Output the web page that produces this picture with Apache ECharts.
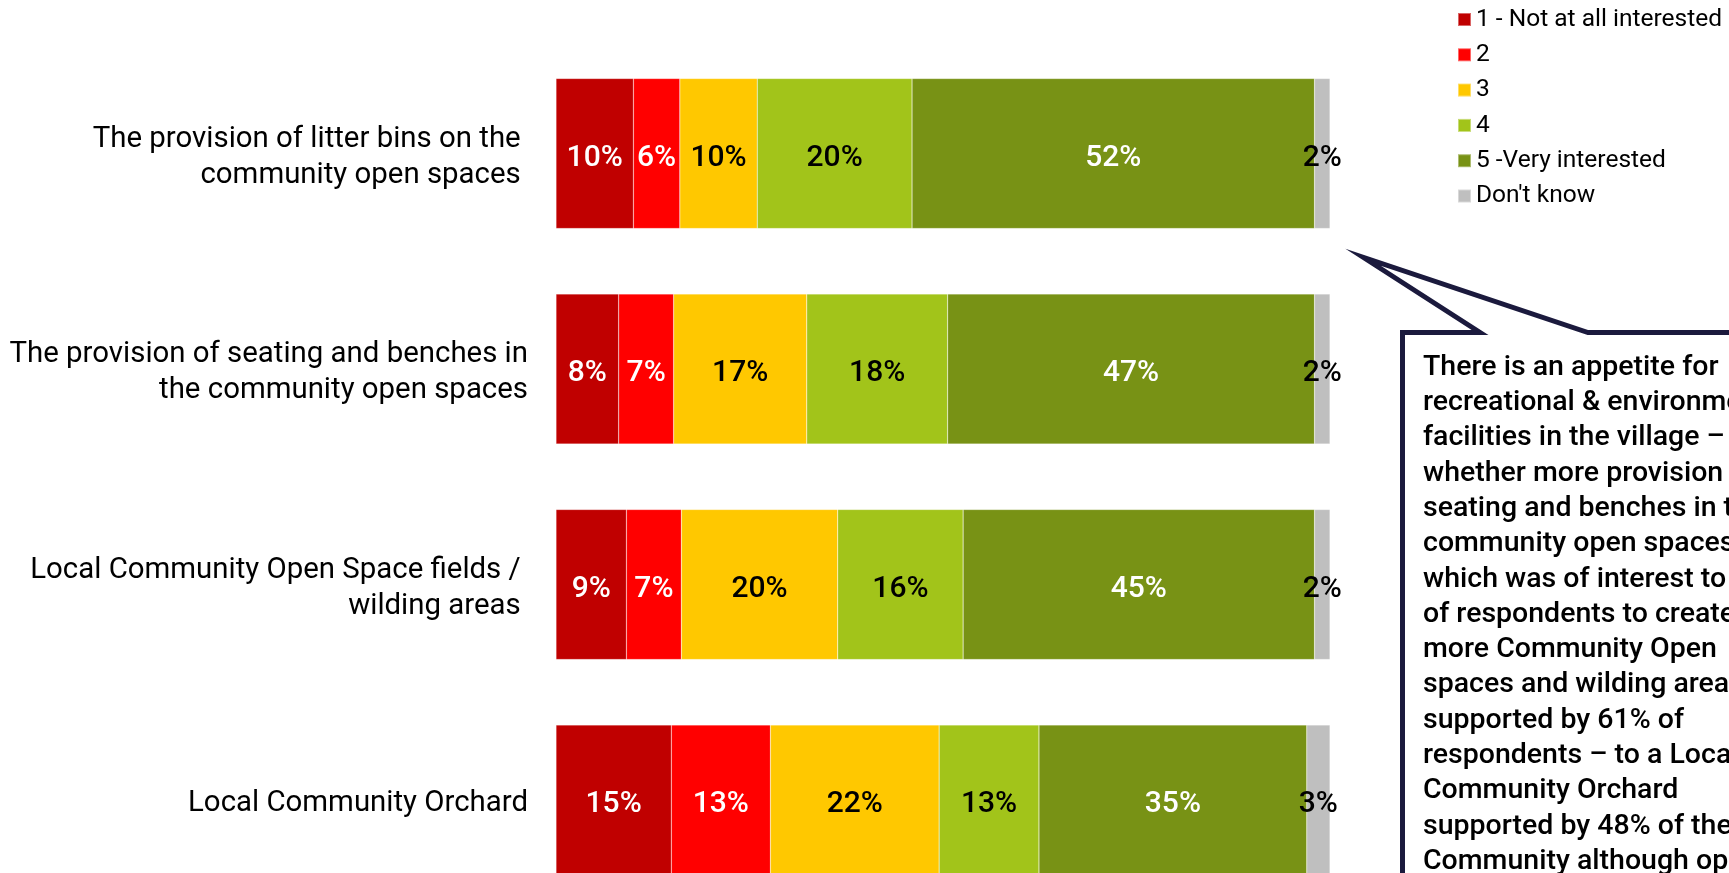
<!DOCTYPE html>
<html>
<head>
<meta charset="utf-8">
<title>Community open spaces</title>
<script src="https://cdn.jsdelivr.net/npm/echarts@6/dist/echarts.min.js"></script>
<style>
  html, body { margin: 0; padding: 0; background: #fff; }
  #chart { width: 1729px; height: 873px; }
</style>
</head>
<body>
<div id="chart"></div>
<script>
// categories (trailing spaces as in the original labels)
const categories = [
  'The provision of litter bins on the \ncommunity open spaces ',
  'The provision of seating and benches in\nthe community open spaces',
  'Local Community Open Space fields / \nwilding areas ',
  'Local Community Orchard'
]

// legend names
const seriesNames = ['1 - Not at all interested', '2', '3', '4', '5 -Very interested', "Don't know"]

// percentages
const notAtAll = [10, 8.1, 9.1, 14.9]
const two = [6, 7.1, 7.1, 12.8]
const three = [10, 17.2, 20.2, 21.8]
const four = [20, 18.2, 16.2, 12.9]
const veryInterested = [52, 47.4, 45.4, 34.6]
const dontKnow = [2, 2.0, 2.0, 3.0]

const seriesValues = [notAtAll, two, three, four, veryInterested, dontKnow]

// colours
const colors = ['#C00000', '#FF0000', '#FFC800', '#A2C41A', '#789215', '#BFBFBF']
const labelColors = ['#fff', '#fff', '#000', '#000', '#fff', '#000']

// callout text
const calloutLines = [
  'There is an appetite for',
  'recreational & environmental',
  'facilities in the village \u2013',
  'whether more provision of',
  'seating and benches in the',
  'community open spaces',
  'which was of interest to 65%',
  'of respondents to create',
  'more Community Open',
  'spaces and wilding areas',
  'supported by 61% of',
  'respondents \u2013 to a Local',
  'Community Orchard',
  'supported by 48% of the',
  'Community although opinion'
]

const chart = echarts.init(document.getElementById('chart'))

// small spacer line on top pushes the label block a little lower
const categoryLabel = value => '{p| }\n' + value.split('\n').map(s => '{l|' + s + '}').join('\n')

const option = {
  animation: false,
  legend: {
    orient: 'vertical',
    left: 1457,
    top: 7,
    padding: 0,
    itemWidth: 13,
    itemHeight: 13,
    itemGap: 10.3,
    icon: 'rect',
    data: seriesNames,
    textStyle: {
      color: '#000',
      fontFamily: 'Roboto',
      fontSize: 24.5,
      lineHeight: 23
    }
  },
  grid: {
    left: 556,
    top: 45.75,
    width: 774,
    height: 862,
    outerBoundsMode: 'none'
  },
  xAxis: {
    type: 'value',
    min: 0,
    max: 100,
    show: false
  },
  yAxis: {
    type: 'category',
    inverse: true,
    data: categories,
    axisLine: { show: false },
    axisTick: { show: false },
    axisLabel: {
      margin: 28,
      align: 'right',
      formatter: categoryLabel,
      rich: {
        p: { fontSize: 1, lineHeight: 8, align: 'right' },
        l: {
          color: '#000',
          fontFamily: 'Roboto',
          fontSize: 29.4,
          lineHeight: 36,
          align: 'right'
        }
      }
    }
  },
  series: seriesNames.map((name, i) => ({
    name: name,
    type: 'bar',
    stack: 'total',
    barWidth: 150,
    data: seriesValues[i],
    itemStyle: {
      color: colors[i],
      borderColor: 'rgba(255,255,255,0.4)',
      borderWidth: 0.5
    },
    label: {
      show: true,
      position: 'inside',
      offset: [0, 4.5],
      formatter: p => Math.round(p.value) + '%',
      color: labelColors[i],
      fontFamily: 'Roboto',
      fontWeight: 500,
      fontSize: 30
    }
  })),
  graphic: [
    {
      type: 'polygon',
      shape: {
        points: [
          [1402.5, 900], [1402.5, 332.5], [1480, 332.5], [1363.5, 257.5],
          [1588, 332.5], [1780, 332.5], [1780, 900]
        ]
      },
      style: {
        fill: '#fff',
        stroke: '#1B1A3D',
        lineWidth: 5,
        lineJoin: 'miter',
        miterLimit: 12
      }
    },
    {
      type: 'text',
      x: 1423,
      y: 350,
      style: {
        text: calloutLines.join('\n'),
        fill: '#000',
        fontFamily: 'Roboto',
        fontWeight: 500,
        fontSize: 28.5,
        lineHeight: 35.3
      }
    }
  ]
}

chart.setOption(option)
</script>
</body>
</html>
